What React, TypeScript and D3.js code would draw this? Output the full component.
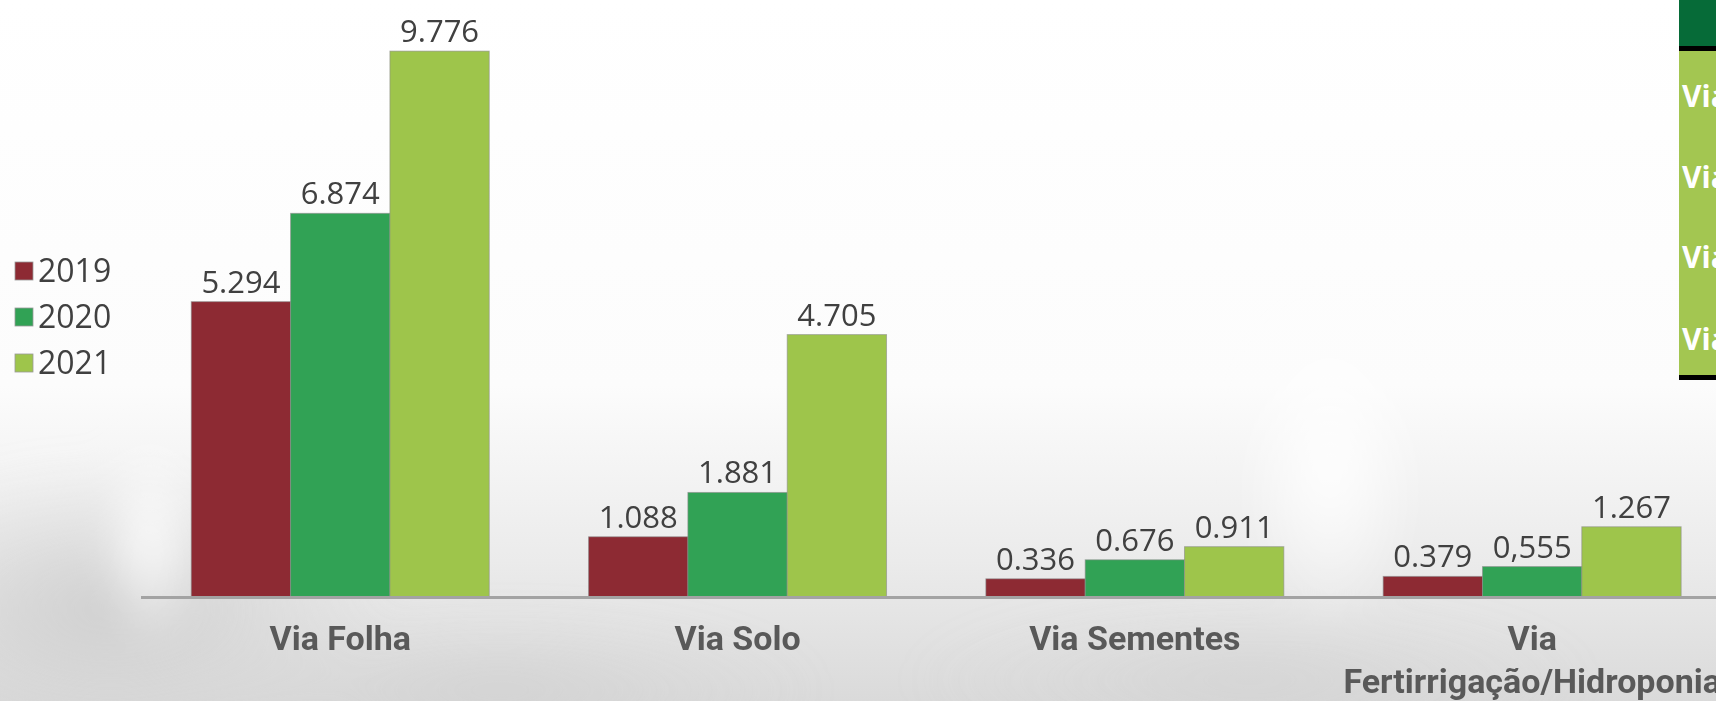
import React from "react";
import * as d3 from "d3";

const categories = ["Via Folha", "Via Solo", "Via Sementes", "Via Fertirrigação/Hidroponia"];
const categoryLines = [["Via Folha"], ["Via Solo"], ["Via Sementes"], ["Via", "Fertirrigação/Hidroponia"]];
const years = ["2019", "2020", "2021"];
const values2019 = [5.294, 1.088, 0.336, 0.379];
const values2020 = [6.874, 1.881, 0.676, 0.555];
const values2021 = [9.776, 4.705, 0.911, 1.267];
const labels2019 = ["5.294", "1.088", "0.336", "0.379"];
const labels2020 = ["6.874", "1.881", "0.676", "0,555"];
const labels2021 = ["9.776", "4.705", "0.911", "1.267"];
const colors = ["#8d2a33", "#31a255", "#9ec54b"];
const tableRows = ["Via Folha", "Via Solo", "Via Sementes", "Via Fertirrigação"];

const W = 1716;
const H = 701;

export default function App() {
  const baseline = 597.6;
  const y = d3.scaleLinear().domain([0, 10]).range([baseline, baseline - 559]);
  const x0 = d3
    .scaleBand<string>()
    .domain(categories)
    .range([141.6, 141.6 + 4 * 397.3])
    .paddingInner(0.25)
    .paddingOuter(0.125);
  const x1 = d3.scaleBand<string>().domain(years).range([0, x0.bandwidth()]).padding(0);
  const series = [values2019, values2020, values2021];
  const labels = [labels2019, labels2020, labels2021];

  const numFont = "'Open Sans', 'Noto Sans', sans-serif";
  const catFont = "Roboto, 'Noto Sans', sans-serif";

  return (
    <svg
      width={W}
      height={H}
      style={{ position: "absolute", left: 0, top: 0, display: "block" }}
    >
      <defs>
        <linearGradient id="bg" x1="0" y1="0" x2="0" y2="1">
          <stop offset="0" stopColor="#ffffff" />
          <stop offset="0.55" stopColor="#fcfcfc" />
          <stop offset="0.8" stopColor="#ebebeb" />
          <stop offset="1" stopColor="#dadada" />
        </linearGradient>
        <radialGradient id="smokeL" cx="0.5" cy="0.5" r="0.5">
          <stop offset="0" stopColor="#cbcbcb" stopOpacity="0.85" />
          <stop offset="1" stopColor="#d4d4d4" stopOpacity="0" />
        </radialGradient>
        <radialGradient id="smokeW" cx="0.5" cy="0.5" r="0.5">
          <stop offset="0" stopColor="#ffffff" stopOpacity="0.9" />
          <stop offset="1" stopColor="#ffffff" stopOpacity="0" />
        </radialGradient>
        <filter id="blur" x="-50%" y="-50%" width="200%" height="200%">
          <feGaussianBlur stdDeviation="18" />
        </filter>
      </defs>
      <rect x={0} y={0} width={W} height={H} fill="url(#bg)" />
      <g filter="url(#blur)">
        <ellipse cx={110} cy={610} rx={280} ry={150} fill="url(#smokeL)" />
        <ellipse cx={500} cy={690} rx={320} ry={80} fill="url(#smokeL)" opacity={0.6} />
        <ellipse cx={1250} cy={680} rx={340} ry={80} fill="url(#smokeL)" opacity={0.5} />
        <ellipse cx={150} cy={540} rx={50} ry={110} fill="url(#smokeW)" />
        <ellipse cx={1330} cy={470} rx={90} ry={160} fill="url(#smokeW)" />
      </g>

      {/* bars */}
      {categories.map((c, i) => (
        <g key={c} transform={`translate(${x0(c)},0)`}>
          {years.map((yr, j) => {
            const v = series[j][i];
            const bx = x1(yr) as number;
            const bw = x1.bandwidth();
            return (
              <g key={yr}>
                <rect
                  x={bx}
                  y={y(v)}
                  width={bw}
                  height={baseline - y(v)}
                  fill={colors[j]}
                  stroke="#8a8a8a"
                  strokeOpacity={0.6}
                  strokeWidth={1}
                />
                <text
                  x={bx + bw / 2}
                  y={y(v) - 9}
                  textAnchor="middle"
                  fontFamily={numFont}
                  fontSize={31}
                  fill="#404040"
                >
                  {labels[j][i]}
                </text>
              </g>
            );
          })}
        </g>
      ))}

      {/* axis line */}
      <line x1={141} x2={W} y1={baseline} y2={baseline} stroke="#a3a3a3" strokeWidth={3} />

      {/* category labels */}
      {categories.map((c, i) => (
        <text
          key={c}
          x={(x0(c) as number) + x0.bandwidth() / 2}
          y={650}
          textAnchor="middle"
          fontFamily={catFont}
          fontWeight={700}
          fontSize={34}
          fill="#595959"
        >
          {categoryLines[i].map((ln, k) => (
            <tspan key={k} x={(x0(c) as number) + x0.bandwidth() / 2} dy={k === 0 ? 0 : 43}>
              {ln}
            </tspan>
          ))}
        </text>
      ))}

      {/* legend */}
      {years.map((yr, j) => (
        <g key={yr} transform={`translate(15, ${262 + j * 46})`}>
          <rect x={0} y={0} width={18} height={18} fill={colors[j]} stroke="#9a9a9a" strokeWidth={0.8} />
          <text x={23} y={20} fontFamily={numFont} fontSize={32} fill="#404040">
            {yr}
          </text>
        </g>
      ))}

      {/* right table fragment */}
      <g>
        <rect x={1679} y={0} width={W - 1679} height={46} fill="#066b38" />
        <rect x={1679} y={46} width={W - 1679} height={5} fill="#000000" />
        <rect x={1679} y={51} width={W - 1679} height={324} fill="#a3c651" />
        <rect x={1679} y={375} width={W - 1679} height={5} fill="#000000" />
        {tableRows.map((r, k) => (
          <text
            key={r}
            x={1682}
            y={[107, 188, 268, 350][k]}
            fontFamily={numFont}
            fontWeight={700}
            fontSize={30}
            fill="#ffffff"
          >
            {r}
          </text>
        ))}
      </g>
    </svg>
  );
}
